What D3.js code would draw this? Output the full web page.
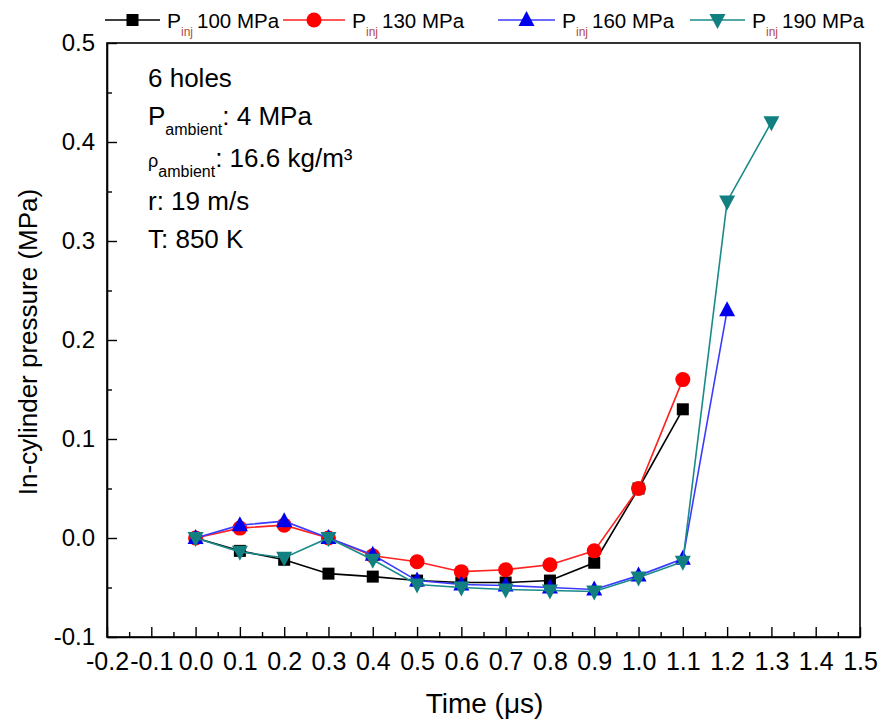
<!DOCTYPE html>
<html><head><meta charset="utf-8">
<script src="https://cdn.jsdelivr.net/npm/d3@7"></script>
<style>body{margin:0;background:#fff;} svg{display:block;font-family:"Liberation Sans",Arial,sans-serif;}</style>
</head><body>
<svg id="c" width="888" height="724"></svg>
<script>
const times = [0.0,0.1,0.2,0.3,0.4,0.5,0.6,0.7,0.8,0.9,1.0,1.1,1.2,1.3];
const p100 = [0, -0.013, -0.022, -0.036, -0.039, -0.043, -0.045, -0.045, -0.043, -0.025, 0.05, 0.13];
const p130 = [0, 0.010, 0.013, 0.000, -0.018, -0.024, -0.034, -0.032, -0.027, -0.013, 0.05, 0.16];
const p160 = [0, 0.013, 0.017, 0.000, -0.017, -0.043, -0.047, -0.048, -0.050, -0.052, -0.038, -0.021, 0.23];
const p190 = [0, -0.014, -0.020, 0.000, -0.022, -0.047, -0.050, -0.052, -0.053, -0.054, -0.040, -0.024, 0.34, 0.42];
const seriesNames = ["100 MPa","130 MPa","160 MPa","190 MPa"];
const xTicks = [-0.2,-0.1,0.0,0.1,0.2,0.3,0.4,0.5,0.6,0.7,0.8,0.9,1.0,1.1,1.2,1.3,1.4,1.5];
const yTicks = [-0.1,0.0,0.1,0.2,0.3,0.4,0.5];

const series = [
  {name: seriesNames[0], vals: p100, color:"#000000", line:"#000000", shape:"square"},
  {name: seriesNames[1], vals: p130, color:"#ff0000", line:"#ff2020", shape:"circle"},
  {name: seriesNames[2], vals: p160, color:"#0000ee", line:"#3b3bff", shape:"up"},
  {name: seriesNames[3], vals: p190, color:"#128080", line:"#1a8a8a", shape:"down"}
];

const svg = d3.select("#c");
const L=107, R=860, T=43, B=637;
const x = d3.scaleLinear().domain([-0.2,1.5]).range([L,R]);
const y = d3.scaleLinear().domain([-0.1,0.5]).range([B,T]);

// frame
svg.append("rect").attr("x",L).attr("y",T).attr("width",R-L).attr("height",B-T)
  .attr("fill","none").attr("stroke","#000").attr("stroke-width",1.6);

// axes
const xMinor = d3.range(-0.15,1.5,0.1).map(v=>+v.toFixed(2));
const yMinor = d3.range(-0.05,0.5,0.1).map(v=>+v.toFixed(2));
const fmt = d=>d3.format(".1f")(d).replace("−","-");
const gx = svg.append("g").attr("transform",`translate(0,${B})`)
  .call(d3.axisBottom(x).tickValues(xTicks).tickFormat(fmt).tickSizeInner(-10).tickSizeOuter(0).tickPadding(15));
gx.select(".domain").attr("stroke-width",1.6);
gx.selectAll("text").attr("font-size",25).attr("font-family","Liberation Sans, Arial");
svg.append("g").attr("transform",`translate(0,${B})`)
  .call(d3.axisBottom(x).tickValues(xMinor).tickFormat("").tickSizeInner(-5).tickSizeOuter(0))
  .select(".domain").remove();
const gy = svg.append("g").attr("transform",`translate(${L},0)`)
  .call(d3.axisLeft(y).tickValues(yTicks).tickFormat(fmt).tickSizeInner(-10).tickSizeOuter(0).tickPadding(12));
gy.select(".domain").attr("stroke-width",1.6);
gy.selectAll("text").attr("font-size",24).attr("font-family","Liberation Sans, Arial");
svg.append("g").attr("transform",`translate(${L},0)`)
  .call(d3.axisLeft(y).tickValues(yMinor).tickFormat("").tickSizeInner(-5).tickSizeOuter(0))
  .select(".domain").remove();
svg.selectAll(".tick line").attr("stroke-width",1.4);

// titles
svg.append("text").attr("x",(L+R)/2 + 1).attr("y",713).attr("text-anchor","middle")
  .attr("font-size",28).text("Time (μs)");
svg.append("text").attr("transform",`translate(37,${(T+B)/2 + 2}) rotate(-90)`).attr("text-anchor","middle")
  .attr("font-size",26).text("In-cylinder pressure (MPa)");

// marker drawer
function marker(g, shape, color){
  if(shape==="square") g.append("rect").attr("x",-6).attr("y",-6).attr("width",12).attr("height",12).attr("fill",color);
  else if(shape==="circle") g.append("circle").attr("r",7.5).attr("fill",color);
  else if(shape==="up") g.append("path").attr("d","M0,-9L8,6L-8,6Z").attr("fill",color);
  else g.append("path").attr("d","M0,9L8,-6L-8,-6Z").attr("fill",color);
}

// data
const line = d3.line().x(d=>x(d[0])).y(d=>y(d[1]));
series.forEach(s=>{
  const pts = s.vals.map((v,i)=>[times[i],v]);
  svg.append("path").datum(pts).attr("d",line).attr("fill","none").attr("stroke",s.line).attr("stroke-width",1.6);
  pts.forEach(p=>{
    marker(svg.append("g").attr("transform",`translate(${x(p[0])},${y(p[1])})`), s.shape, s.color);
  });
});

// legend
const legLines = [[105,160],[283,345],[498,555],[690,745]];
series.forEach((s,i)=>{
  const [x0,x1] = legLines[i], yc = 20;
  svg.append("line").attr("x1",x0).attr("x2",x1).attr("y1",yc).attr("y2",yc).attr("stroke",s.line).attr("stroke-width",1.6);
  marker(svg.append("g").attr("transform",`translate(${(x0+x1)/2},${yc})`), s.shape, s.color);
  const t = svg.append("text").attr("x",x1+7).attr("y",yc+8).attr("font-size",21);
  t.append("tspan").text("P");
  t.append("tspan").attr("dy",8).attr("font-size",12).attr("fill","#b04a4a").text("inj");
  svg.append("text").attr("x",x1+37).attr("y",yc+8).attr("font-size",20.5).text(s.name);
});

// annotation
const ann = svg.append("g").attr("font-size",26);
ann.append("text").attr("x",148).attr("y",87).text("6 holes");
const a2 = ann.append("text").attr("x",148).attr("y",125);
a2.append("tspan").text("P");
a2.append("tspan").attr("dy",10).attr("font-size",16).text("ambient");
a2.append("tspan").attr("dy",-10).text(": 4 MPa");
const a3 = ann.append("text").attr("x",148).attr("y",167);
a3.append("tspan").attr("font-size",18).text("ρ");
a3.append("tspan").attr("dy",10).attr("font-size",16).text("ambient");
a3.append("tspan").attr("dy",-10).text(": 16.6 kg/m³");
ann.append("text").attr("x",148).attr("y",210).text("r: 19 m/s");
ann.append("text").attr("x",148).attr("y",248).text("T: 850 K");
</script>
</body></html>
